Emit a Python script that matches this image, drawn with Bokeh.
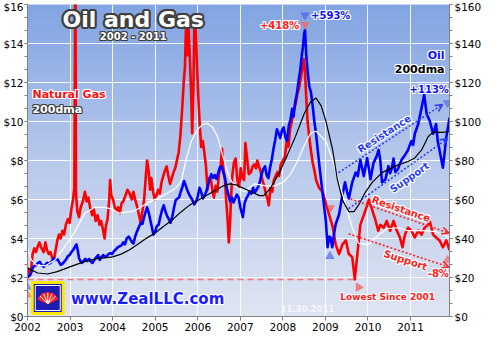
import math
import numpy as np
from bokeh.plotting import figure
from bokeh.models import (Range1d, LinearAxis, SingleIntervalTicker, FixedTicker,
                          PrintfTickFormatter, Label, Arrow, OpenHead)
from bokeh.embed import file_html
from bokeh.resources import INLINE

# ---------------- data (decimal year, price) ----------------
years = list(range(2002, 2012))

gas_price = [
    (2002.00, 2.5), (2002.03, 2.3), (2002.06, 2.1), (2002.09, 2.5), (2002.12, 3.2), (2002.16, 3.5),
    (2002.20, 3.3), (2002.24, 3.6), (2002.28, 3.8), (2002.33, 3.5), (2002.38, 3.3), (2002.42, 3.8),
    (2002.46, 3.4), (2002.50, 3.2), (2002.54, 3.3), (2002.58, 3.0), (2002.62, 2.9), (2002.66, 3.4),
    (2002.70, 3.9), (2002.74, 4.2), (2002.78, 4.0), (2002.82, 4.4), (2002.86, 4.2), (2002.90, 4.7),
    (2002.95, 5.0), (2002.99, 4.8), (2003.03, 5.5), (2003.07, 6.0), (2003.10, 6.6), (2003.125, 18.5),
    (2003.14, 6.3), (2003.17, 5.4), (2003.21, 5.1), (2003.25, 5.6), (2003.30, 5.9), (2003.35, 6.4),
    (2003.39, 5.9), (2003.43, 6.1), (2003.47, 5.6), (2003.52, 5.2), (2003.56, 5.5), (2003.60, 4.9),
    (2003.65, 5.2), (2003.69, 4.7), (2003.73, 4.9), (2003.77, 4.5), (2003.81, 4.0), (2003.84, 4.6),
    (2003.88, 5.0), (2003.92, 6.0), (2003.94, 7.0), (2003.97, 6.2), (2004.01, 6.0), (2004.05, 5.6),
    (2004.09, 5.4), (2004.13, 5.6), (2004.17, 5.3), (2004.21, 5.8), (2004.25, 5.9), (2004.30, 6.2),
    (2004.35, 6.5), (2004.40, 6.3), (2004.45, 6.0), (2004.49, 6.4), (2004.53, 6.0), (2004.58, 5.6),
    (2004.62, 5.2), (2004.66, 4.8), (2004.70, 5.4), (2004.74, 6.0), (2004.78, 7.2), (2004.81, 8.0),
    (2004.85, 7.4), (2004.88, 6.5), (2004.91, 7.1), (2004.95, 6.4), (2004.99, 6.0), (2005.03, 6.2),
    (2005.07, 6.5), (2005.11, 6.3), (2005.15, 6.9), (2005.19, 7.2), (2005.23, 7.5), (2005.27, 7.7),
    (2005.31, 7.2), (2005.35, 6.8), (2005.39, 7.1), (2005.43, 7.4), (2005.47, 7.6), (2005.51, 8.0),
    (2005.55, 8.4), (2005.59, 9.2), (2005.63, 10.5), (2005.67, 12.0), (2005.70, 12.8), (2005.725, 15.0),
    (2005.75, 13.4), (2005.785, 14.7), (2005.81, 13.5), (2005.84, 11.8), (2005.87, 9.4), (2005.90, 12.0),
    (2005.92, 14.9), (2005.955, 15.0), (2005.98, 13.0), (2006.01, 11.4), (2006.04, 10.1), (2006.08, 8.7),
    (2006.12, 9.0), (2006.16, 8.3), (2006.19, 7.8), (2006.23, 6.5), (2006.27, 7.1), (2006.31, 7.0),
    (2006.35, 6.4), (2006.38, 6.1), (2006.42, 6.7), (2006.46, 6.4), (2006.50, 7.3), (2006.54, 7.8),
    (2006.57, 8.6), (2006.60, 7.6), (2006.64, 7.0), (2006.67, 5.9), (2006.70, 5.0), (2006.73, 3.8),
    (2006.76, 4.8), (2006.78, 6.0), (2006.81, 7.2), (2006.85, 7.9), (2006.89, 8.1), (2006.93, 7.0),
    (2006.97, 6.6), (2007.01, 7.6), (2007.05, 7.1), (2007.09, 7.0), (2007.12, 8.9), (2007.16, 8.1),
    (2007.20, 7.3), (2007.25, 7.4), (2007.29, 7.7), (2007.33, 7.8), (2007.37, 7.6), (2007.40, 8.0),
    (2007.44, 7.7), (2007.48, 7.4), (2007.52, 7.0), (2007.56, 6.7), (2007.60, 6.3), (2007.64, 6.0),
    (2007.67, 5.7), (2007.71, 6.6), (2007.75, 6.4), (2007.79, 7.0), (2007.83, 7.2), (2007.87, 7.4),
    (2007.91, 7.2), (2007.95, 7.8), (2008.00, 8.0), (2008.05, 8.2), (2008.09, 9.0), (2008.13, 8.7),
    (2008.17, 9.6), (2008.21, 10.0), (2008.26, 10.6), (2008.30, 10.9), (2008.34, 11.4), (2008.38, 11.7),
    (2008.42, 12.2), (2008.46, 12.8), (2008.49, 13.2), (2008.52, 12.5), (2008.55, 11.2), (2008.58, 10.0),
    (2008.62, 9.2), (2008.66, 8.5), (2008.70, 7.9), (2008.74, 7.5), (2008.78, 7.0), (2008.85, 6.6),
    (2008.93, 6.4), (2009.01, 5.8), (2009.09, 5.2), (2009.17, 4.6), (2009.24, 3.7), (2009.32, 3.2),
    (2009.40, 3.7), (2009.48, 3.9), (2009.55, 3.2), (2009.63, 3.05), (2009.69, 1.9), (2009.75, 3.2),
    (2009.82, 4.7), (2009.90, 5.2), (2009.98, 5.7), (2010.02, 6.0), (2010.08, 5.6), (2010.16, 5.05),
    (2010.24, 4.4), (2010.29, 4.7), (2010.37, 4.55), (2010.44, 4.9), (2010.52, 4.4), (2010.60, 4.9),
    (2010.68, 4.4), (2010.75, 4.05), (2010.81, 3.55), (2010.87, 4.2), (2010.94, 4.55), (2011.02, 4.4),
    (2011.10, 4.05), (2011.18, 4.4), (2011.26, 4.2), (2011.33, 4.55), (2011.41, 4.7), (2011.45, 4.9),
    (2011.53, 4.2), (2011.60, 4.05), (2011.68, 3.9), (2011.76, 3.55), (2011.84, 3.9), (2011.915, 3.4),
]

oil_price = [
    (2002.00, 20.0), (2002.04, 21.0), (2002.08, 22.0), (2002.12, 25.0), (2002.17, 26.0), (2002.21, 26.5),
    (2002.25, 27.5), (2002.29, 28.0), (2002.33, 26.5), (2002.38, 25.5), (2002.42, 26.5), (2002.46, 27.5),
    (2002.50, 27.0), (2002.54, 27.5), (2002.58, 28.5), (2002.62, 30.0), (2002.66, 29.0), (2002.70, 29.5),
    (2002.74, 28.0), (2002.78, 26.5), (2002.82, 27.0), (2002.86, 28.0), (2002.90, 29.0), (2002.95, 31.0),
    (2002.99, 31.5), (2003.03, 33.0), (2003.07, 34.0), (2003.11, 35.5), (2003.15, 37.0), (2003.18, 34.0),
    (2003.21, 30.0), (2003.24, 28.5), (2003.28, 27.5), (2003.32, 28.5), (2003.36, 29.5), (2003.40, 28.5),
    (2003.45, 29.5), (2003.49, 28.0), (2003.53, 27.5), (2003.57, 29.0), (2003.62, 30.5), (2003.66, 31.5),
    (2003.70, 29.0), (2003.74, 30.5), (2003.78, 31.5), (2003.82, 30.5), (2003.86, 31.0), (2003.90, 32.0),
    (2003.95, 32.5), (2003.99, 32.0), (2004.03, 33.5), (2004.08, 34.5), (2004.12, 35.5), (2004.16, 36.0),
    (2004.21, 36.5), (2004.25, 38.0), (2004.29, 37.0), (2004.33, 40.0), (2004.38, 41.0), (2004.42, 39.5),
    (2004.46, 38.0), (2004.49, 37.5), (2004.53, 41.0), (2004.57, 43.5), (2004.62, 46.0), (2004.66, 48.0),
    (2004.70, 47.5), (2004.74, 51.0), (2004.78, 54.0), (2004.81, 56.0), (2004.85, 53.0), (2004.89, 49.0),
    (2004.93, 45.0), (2004.96, 42.0), (2005.00, 43.5), (2005.04, 46.5), (2005.08, 47.0), (2005.12, 51.0),
    (2005.16, 54.5), (2005.20, 57.0), (2005.24, 54.0), (2005.28, 51.5), (2005.32, 50.0), (2005.36, 48.0),
    (2005.40, 51.0), (2005.44, 55.5), (2005.48, 59.5), (2005.52, 60.5), (2005.56, 61.0), (2005.60, 64.0),
    (2005.64, 66.5), (2005.68, 69.5), (2005.72, 67.0), (2005.76, 64.5), (2005.80, 62.5), (2005.84, 61.0),
    (2005.88, 59.5), (2005.92, 57.5), (2005.96, 59.0), (2006.00, 61.5), (2006.04, 66.0), (2006.08, 64.0),
    (2006.12, 60.5), (2006.16, 62.0), (2006.20, 64.0), (2006.24, 67.5), (2006.28, 70.5), (2006.32, 73.0),
    (2006.36, 71.0), (2006.40, 72.5), (2006.44, 70.5), (2006.48, 73.5), (2006.52, 76.5), (2006.56, 77.0),
    (2006.60, 74.0), (2006.64, 71.0), (2006.68, 66.0), (2006.72, 62.5), (2006.76, 59.0), (2006.80, 61.0),
    (2006.84, 58.5), (2006.88, 60.5), (2006.92, 62.5), (2006.96, 61.0), (2007.00, 56.0), (2007.04, 52.5),
    (2007.06, 51.0), (2007.10, 58.0), (2007.14, 60.5), (2007.18, 62.0), (2007.22, 64.0), (2007.26, 63.0),
    (2007.30, 66.0), (2007.34, 63.5), (2007.38, 65.0), (2007.42, 66.5), (2007.46, 69.0), (2007.50, 73.0),
    (2007.54, 75.5), (2007.58, 77.0), (2007.62, 72.5), (2007.66, 71.0), (2007.70, 76.5), (2007.74, 80.5),
    (2007.78, 86.0), (2007.82, 90.5), (2007.86, 96.0), (2007.90, 94.0), (2007.94, 91.5), (2007.98, 95.5),
    (2008.02, 97.0), (2008.06, 92.0), (2008.10, 90.0), (2008.14, 98.0), (2008.18, 101.0), (2008.22, 106.5),
    (2008.25, 102.5), (2008.29, 110.0), (2008.33, 114.5), (2008.37, 121.0), (2008.41, 126.5), (2008.44, 133.0),
    (2008.47, 138.0), (2008.50, 145.0), (2008.52, 147.0), (2008.55, 134.0), (2008.58, 126.0), (2008.62, 118.0),
    (2008.66, 115.0), (2008.70, 108.0), (2008.74, 100.0), (2008.78, 93.7), (2008.86, 77.0), (2008.93, 63.8),
    (2009.01, 48.9), (2009.05, 35.5), (2009.09, 41.0), (2009.12, 40.5), (2009.16, 35.5), (2009.20, 42.0),
    (2009.24, 47.3), (2009.32, 52.3), (2009.40, 62.3), (2009.46, 68.8), (2009.51, 63.8), (2009.55, 60.5),
    (2009.63, 68.8), (2009.71, 73.8), (2009.76, 72.0), (2009.82, 80.4), (2009.90, 72.0), (2009.98, 81.3),
    (2010.06, 70.4), (2010.13, 78.8), (2010.20, 82.0), (2010.25, 85.4), (2010.29, 80.0), (2010.33, 68.8),
    (2010.41, 70.4), (2010.48, 77.1), (2010.52, 73.5), (2010.56, 76.0), (2010.60, 81.0), (2010.64, 74.0),
    (2010.70, 75.5), (2010.79, 80.4), (2010.86, 82.5), (2010.94, 85.4), (2011.02, 90.0), (2011.06, 88.0),
    (2011.10, 93.7), (2011.18, 98.7), (2011.26, 107.0), (2011.32, 113.7), (2011.38, 103.7), (2011.45, 100.4),
    (2011.53, 93.7), (2011.60, 98.7), (2011.64, 89.7), (2011.68, 85.4), (2011.76, 76.3), (2011.80, 84.0),
    (2011.84, 92.1), (2011.88, 97.0), (2011.915, 102.0),
]

gas_200dma = [
    (2002.00, 3.5), (2002.09, 2.9), (2002.20, 2.65), (2002.42, 2.6), (2002.65, 2.9), (2002.88, 3.6),
    (2003.10, 4.3), (2003.35, 5.3), (2003.58, 5.6), (2003.81, 5.6), (2004.00, 5.5), (2004.15, 5.3),
    (2004.50, 5.4), (2004.80, 5.8), (2005.19, 6.2), (2005.50, 6.6), (2005.62, 7.0), (2005.72, 8.0),
    (2005.85, 9.0), (2006.00, 9.6), (2006.12, 9.85), (2006.23, 9.9), (2006.35, 9.7), (2006.47, 9.2),
    (2006.58, 8.3), (2006.70, 7.4), (2006.80, 6.9), (2006.93, 6.6), (2007.10, 6.4), (2007.33, 6.8),
    (2007.60, 6.7), (2007.80, 6.7), (2008.02, 6.9), (2008.18, 7.3), (2008.33, 7.9), (2008.49, 8.7),
    (2008.65, 9.4), (2008.78, 9.5), (2009.01, 9.0), (2009.17, 8.0), (2009.32, 6.9), (2009.48, 5.7),
    (2009.63, 4.55), (2009.78, 3.75), (2010.02, 3.7), (2010.18, 4.05), (2010.44, 4.5), (2010.71, 4.55),
    (2010.94, 4.4), (2011.30, 4.4), (2011.60, 4.35), (2011.915, 4.05),
]

oil_200dma = [
    (2002.00, 24.8), (2002.24, 22.3), (2002.47, 21.8), (2002.70, 23.0), (2003.01, 25.6), (2003.32, 28.0),
    (2003.63, 29.7), (2004.00, 30.6), (2004.20, 32.0), (2004.40, 34.2), (2004.60, 37.2), (2004.80, 40.2),
    (2005.00, 42.8), (2005.20, 46.3), (2005.40, 49.5), (2005.60, 53.5), (2005.80, 57.0), (2006.00, 59.5),
    (2006.20, 62.0), (2006.40, 64.5), (2006.60, 67.0), (2006.75, 68.0), (2006.90, 67.5), (2007.10, 65.5),
    (2007.30, 63.5), (2007.45, 62.0), (2007.55, 62.0), (2007.70, 65.5), (2007.90, 73.0), (2008.10, 82.5),
    (2008.30, 92.5), (2008.50, 104.0), (2008.65, 110.0), (2008.78, 112.0), (2008.90, 108.0), (2009.01, 100.3),
    (2009.17, 85.4), (2009.28, 70.4), (2009.40, 59.7), (2009.55, 53.8), (2009.67, 53.8), (2009.78, 57.2),
    (2009.94, 63.8), (2010.10, 68.8), (2010.33, 73.8), (2010.64, 77.1), (2010.95, 79.6), (2011.10, 81.3),
    (2011.26, 85.4), (2011.41, 92.1), (2011.53, 94.6), (2011.75, 94.4), (2011.915, 95.0),
]

# trend channels (start/end: decimal year, price)
oil_resistance = [(2009.31, 73.8), (2011.75, 108.7)]
oil_support = [(2009.545, 55.3), (2011.868, 91.2)]
gas_resistance = [(2009.59, 6.03), (2011.90, 4.28)]
gas_support = [(2009.545, 4.24), (2011.90, 2.54)]

gas_t, gas_v = map(list, zip(*gas_price))
oil_t, oil_v = map(list, zip(*oil_price))
gma_t, gma_v = map(list, zip(*gas_200dma))
oma_t, oma_v = map(list, zip(*oil_200dma))

# ---------------- figure ----------------
X0, X1 = 2002.0, 2011.915
G1, O1 = 16, 160
W, H = 484, 334
BL, BR, BT, BB = 25, 32, 4, 18
FW, FH = W - BL - BR, H - BT - BB
XPX = FW / (X1 - X0)

p = figure(width=W, height=H, x_range=Range1d(X0, X1), y_range=Range1d(0, G1),
           output_backend="svg", toolbar_location=None,
           min_border_left=BL, min_border_right=BR, min_border_top=BT, min_border_bottom=BB,
           background_fill_color="#c5d2ec", border_fill_color="white", outline_line_color=None)
p.extra_y_ranges = {"oil": Range1d(0, O1)}

# gradient background
N = 160
frac = np.linspace(0, 1, N)
stops = [0.0, 0.5, 1.0]
cols = [(224, 229, 242), (184, 201, 236), (130, 165, 227)]
img = np.empty((N, 1), dtype=np.uint32)
view = img.view(dtype=np.uint8).reshape((N, 1, 4))
for k in range(3):
    view[:, 0, k] = np.interp(frac, stops, [c[k] for c in cols]).astype(np.uint8)
view[:, 0, 3] = 255
p.image_rgba(image=[img], x=X0, y=0, dw=X1 - X0, dh=G1, level="image")

# axes
left_ticker = SingleIntervalTicker(interval=2, num_minor_ticks=3)
p.xaxis.ticker = FixedTicker(ticks=years)
p.yaxis.ticker = left_ticker
p.yaxis.formatter = PrintfTickFormatter(format="$%d")
right = LinearAxis(y_range_name="oil", ticker=SingleIntervalTicker(interval=20, num_minor_ticks=3),
                   formatter=PrintfTickFormatter(format="$%d"))
p.add_layout(right, "right")
for ax in [p.xaxis[0], p.yaxis[0], right]:
    ax.axis_line_color = "#808080"
    ax.major_tick_line_color = "#808080"
    ax.minor_tick_line_color = "#808080"
    ax.major_tick_out = 3
    ax.major_tick_in = 0
    ax.minor_tick_out = 3
    ax.minor_tick_in = 0
    ax.major_label_standoff = 2
    ax.major_label_text_font = "DejaVu Sans"
    ax.major_label_text_font_size = "10.5px"
    ax.major_label_text_color = "black"
p.yaxis[0].major_label_standoff = 1
p.xaxis[0].major_tick_out = 4

p.xgrid.ticker = FixedTicker(ticks=years[1:])
p.ygrid.ticker = left_ticker
p.xgrid.grid_line_color = "white"
p.ygrid.grid_line_color = "white"
p.xgrid.grid_line_alpha = 0.9
p.ygrid.grid_line_alpha = 0.9

# lowest gas dashed line
i_low = int(np.argmin(gas_v))
p.line([X0, gas_t[i_low]], [gas_v[i_low], gas_v[i_low]], line_color="#ff6a6a",
       line_width=1.5, line_dash="6 4", line_alpha=0.9)

# series
p.line(gas_t, gas_v, line_color="#ff0000", line_width=2.6, line_join="round")
p.line(oil_t, oil_v, y_range_name="oil", line_color="#0000ff", line_width=2.6, line_join="round")
p.line(gma_t, gma_v, line_color="white", line_width=1.2)
p.line(oma_t, oma_v, y_range_name="oil", line_color="black", line_width=1.2)

# channels
ypx = {"default": FH / G1, "oil": FH / O1}


def channel(pts, color, rng):
    (xs, ys), (xe, ye) = pts
    kw = {} if rng == "default" else {"y_range_name": rng}
    p.add_layout(Arrow(x_start=xs, y_start=ys, x_end=xe, y_end=ye, line_color=color,
                       line_width=1.6, line_dash="2 2",
                       end=OpenHead(size=7, line_color=color, line_width=1.6), **kw))
    return math.atan2((ye - ys) * ypx[rng], (xe - xs) * XPX)


a_or = channel(oil_resistance, "#2a3cff", "oil")
a_os = channel(oil_support, "#2a3cff", "oil")
a_gr = channel(gas_resistance, "#ff2020", "default")
a_gs = channel(gas_support, "#ff2020", "default")

# text helper with outline


def text(x, y, s, size, color, outline=None, align="left", angle=0.0, r=1, rng="default",
         alpha=1.0, outline_alpha=1.0):
    kw = dict(x=x, y=y, text=s, text_font="DejaVu Sans", text_font_style="bold",
              text_font_size=f"{size}px", text_align=align, text_baseline="middle", angle=angle)
    if rng != "default":
        kw["y_range_name"] = rng
    if outline:
        offs = [(dx, dy) for dx in range(-r, r + 1) for dy in range(-r, r + 1)
                if (dx, dy) != (0, 0) and dx * dx + dy * dy <= r * r + 1]
        for dx, dy in offs:
            p.add_layout(Label(x_offset=dx, y_offset=dy, text_color=outline,
                               text_alpha=outline_alpha, **kw))
    p.add_layout(Label(text_color=color, text_alpha=alpha, **kw))


text(2004.484, 15.25, "Oil and Gas", 22, "white", "#404040", "center", r=2)
text(2004.484, 14.36, "2002 - 2011", 10, "white", "#404040", "center")
text(2002.116, 11.37, "Natural Gas", 11, "#ff1010", "white")
text(2002.116, 10.62, "200dma", 11, "white", "#404040")
text(2011.798, 13.36, "Oil", 11, "#1010ff", "white", "right")
text(2011.798, 12.66, "200dma", 11, "black", "white", "right")
text(2008.385, 14.91, "+418%", 10, "#ff2020", "white", "right")
text(2008.663, 15.45, "+593%", 10, "#1010ff", "white")
# right-edge call-outs kept inside the plot frame (labels are clipped to it)
text(2011.90, 11.65, "+113%", 10, "#1010ff", "white", "right")
text(2011.90, 2.22, "-8%", 10, "#ff2020", "white", "right")
text(2010.463, 1.00, "Lowest Since 2001", 9, "#ff2020", "white", "center")
text(2010.382, 9.37, "Resistance", 10, "#2a3cff", "white", "center", angle=a_or)
text(2010.974, 7.13, "Support", 10, "#2a3cff", "white", "center", angle=a_os)
text(2010.776, 5.51, "Resistance", 10, "#ff2020", "white", "center", angle=a_gr)
text(2010.881, 2.89, "Support", 10, "#ff2020", "white", "center", angle=a_gs)
text(2003.022, 0.90, "www.ZealLLC.com", 15, "#1a1aff", "white")
text(2007.944, 0.40, "11.30.2011", 8.5, "white", alpha=0.75)

# markers
i_pk = int(np.argmax(oil_v))
t_pk = oil_t[i_pk]
p.scatter([t_pk], [15.45], marker="inverted_triangle", size=8, color="#5a6ef0", alpha=0.85)
p.scatter([t_pk], [14.96], marker="inverted_triangle", size=8, color="#e87070", alpha=0.85)
p.scatter([2009.105], [3.09], marker="triangle", size=8, color="#6a7ef0", alpha=0.85)
p.scatter([2009.128], [5.58], marker="inverted_triangle", size=7, color="#e87070", alpha=0.8)
p.scatter([2011.868], [10.95], marker="inverted_triangle", size=8, color="#6a7ef0", alpha=0.85)
p.scatter([2011.868], [2.89], marker="triangle", size=8, color="#f08080", alpha=0.85)
p.scatter([2009.778], [1.5], marker="triangle", size=8, color="#f07070", alpha=0.85, angle=0.5)
p.scatter([X0 + 0.01], [1.5], marker="triangle", size=7, color="#8090f0", alpha=0.85)
p.scatter([X0 + 0.01], [1.1], marker="triangle", size=7, color="#f08a8a", alpha=0.85)

# logo
lx, ly = 2002.476, 0.95
p.rect([lx], [ly], width=31, height=31, width_units="screen", height_units="screen",
       fill_color="#1c1cb0", line_color="#ffe800", line_width=3)
p.rect([lx], [ly], width=25, height=25, width_units="screen", height_units="screen",
       fill_color=None, line_color="white", line_width=1)
p.wedge([lx], [ly - 0.3], radius=11, radius_units="screen", start_angle=math.radians(25),
        end_angle=math.radians(155), fill_color="#ff2020", line_color="#ff2020")
p.ray([lx] * 5, [ly - 0.3] * 5, length=11, length_units="screen",
      angle=[math.radians(a) for a in (45, 67, 90, 113, 135)], line_color="white", line_width=1)

open("out.html", "w").write(file_html(p, INLINE))
